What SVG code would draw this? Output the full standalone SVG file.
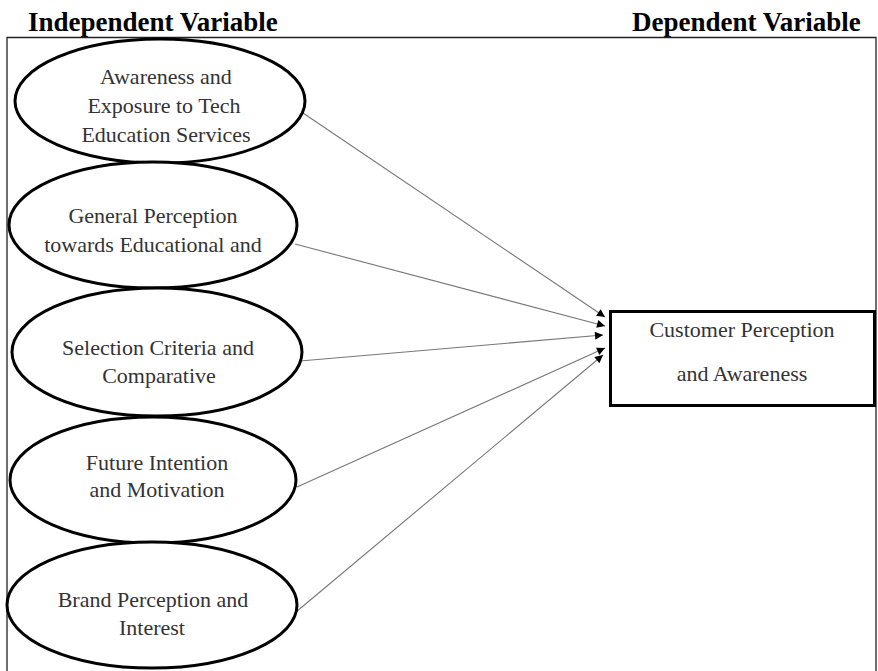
<svg xmlns="http://www.w3.org/2000/svg" width="878" height="671" viewBox="0 0 878 671">
<style>
.hdr{font-family:"Liberation Serif",serif;font-weight:bold;font-size:27px;fill:#000}
.lbl{font-family:"Liberation Serif",serif;font-size:22px;fill:#333;text-anchor:middle}
.ell{fill:#fff;stroke:#000;stroke-width:3}
.con{stroke:#777;stroke-width:1.1;fill:none;marker-end:url(#ah)}
</style>
<defs>
<marker id="ah" viewBox="0 0 10 10" refX="10" refY="5" markerWidth="11" markerHeight="8" markerUnits="userSpaceOnUse" orient="auto">
<path d="M0,0 L10,5 L0,10 z" fill="#000"/>
</marker>
</defs>
<rect width="878" height="671" fill="#fff"/>
<text class="hdr" x="28" y="31">Independent Variable</text>
<text class="hdr" x="632" y="31">Dependent Variable</text>
<path d="M7,671 V37.5 H876 V671" fill="none" stroke="#222" stroke-width="1.3"/>
<g id="connectors">
<line class="con" x1="303" y1="113" x2="605" y2="317"/>
<line class="con" x1="295" y1="244" x2="605" y2="326"/>
<line class="con" x1="300" y1="361" x2="603" y2="335"/>
<line class="con" x1="297" y1="487" x2="605" y2="348"/>
<line class="con" x1="296" y1="612" x2="603" y2="355"/>
</g>
<g id="n1">
<ellipse class="ell" cx="160" cy="101" rx="145" ry="62"/>
<text class="lbl" x="166" y="84">Awareness and</text>
<text class="lbl" x="164" y="113">Exposure to Tech</text>
<text class="lbl" x="166" y="142">Education Services</text>
</g>
<g id="n2">
<ellipse class="ell" cx="153" cy="225" rx="144" ry="63"/>
<text class="lbl" x="153" y="223">General Perception</text>
<text class="lbl" x="153" y="252">towards Educational and</text>
</g>
<g id="n3">
<ellipse class="ell" cx="157" cy="352" rx="145" ry="64"/>
<text class="lbl" x="158" y="355">Selection Criteria and</text>
<text class="lbl" x="159" y="383">Comparative</text>
</g>
<g id="n4">
<ellipse class="ell" cx="153" cy="480" rx="143" ry="63"/>
<text class="lbl" x="157" y="470">Future Intention</text>
<text class="lbl" x="157" y="497">and Motivation</text>
</g>
<g id="n5">
<ellipse class="ell" cx="152" cy="605" rx="145" ry="63"/>
<text class="lbl" x="153" y="607">Brand Perception and</text>
<text class="lbl" x="152" y="635">Interest</text>
</g>
<g id="dv">
<rect x="610.5" y="311.5" width="264" height="94" fill="#fff" stroke="#000" stroke-width="3"/>
<text class="lbl" x="742" y="337">Customer Perception</text>
<text class="lbl" x="742" y="381">and Awareness</text>
</g>
</svg>
